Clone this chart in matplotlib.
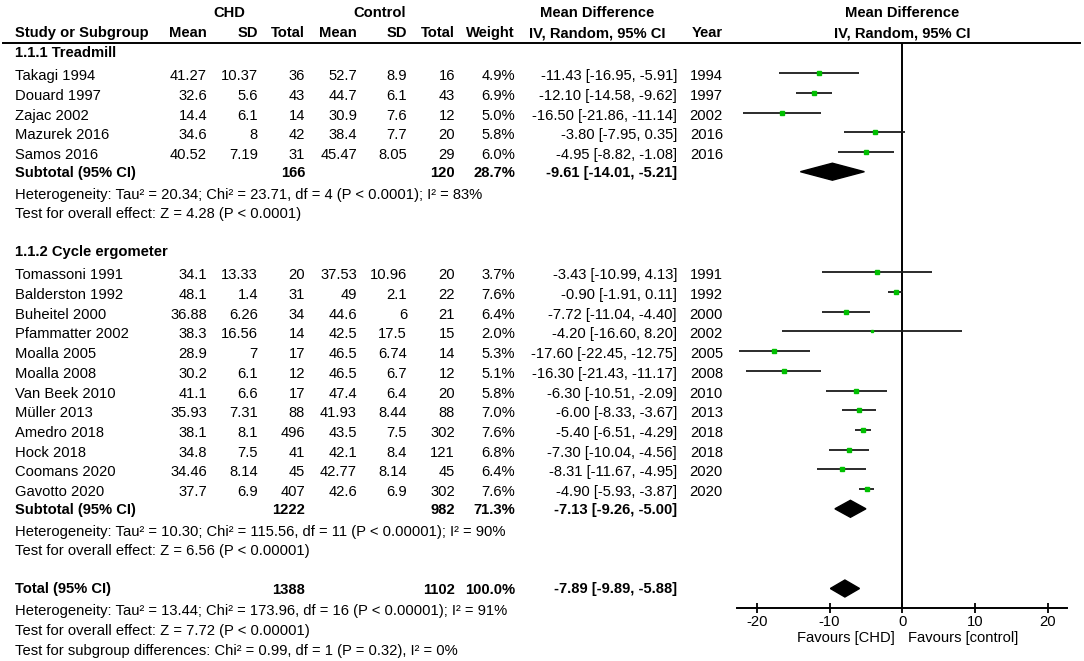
import matplotlib
matplotlib.use("Agg")
import matplotlib.pyplot as plt
from matplotlib.patches import Polygon

plt.rcParams['font.family'] = ['Liberation Sans', 'DejaVu Sans']
plt.rcParams['axes.unicode_minus'] = False

# study level data
study = ["Takagi 1994", "Douard 1997", "Zajac 2002", "Mazurek 2016", "Samos 2016",
         "Tomassoni 1991", "Balderston 1992", "Buheitel 2000", "Pfammatter 2002",
         "Moalla 2005", "Moalla 2008", "Van Beek 2010", "Müller 2013", "Amedro 2018",
         "Hock 2018", "Coomans 2020", "Gavotto 2020"]
group = [0, 0, 0, 0, 0, 1, 1, 1, 1, 1, 1, 1, 1, 1, 1, 1, 1]
chd_mean = [41.27, 32.6, 14.4, 34.6, 40.52, 34.1, 48.1, 36.88, 38.3, 28.9, 30.2, 41.1,
            35.93, 38.1, 34.8, 34.46, 37.7]
chd_sd = [10.37, 5.6, 6.1, 8, 7.19, 13.33, 1.4, 6.26, 16.56, 7, 6.1, 6.6, 7.31, 8.1,
          7.5, 8.14, 6.9]
chd_n = [36, 43, 14, 42, 31, 20, 31, 34, 14, 17, 12, 17, 88, 496, 41, 45, 407]
ctl_mean = [52.7, 44.7, 30.9, 38.4, 45.47, 37.53, 49, 44.6, 42.5, 46.5, 46.5, 47.4,
            41.93, 43.5, 42.1, 42.77, 42.6]
ctl_sd = [8.9, 6.1, 7.6, 7.7, 8.05, 10.96, 2.1, 6, 17.5, 6.74, 6.7, 6.4, 8.44, 7.5,
          8.4, 8.14, 6.9]
ctl_n = [16, 43, 12, 20, 29, 20, 22, 21, 15, 14, 12, 20, 88, 302, 121, 45, 302]
weight = [4.9, 6.9, 5.0, 5.8, 6.0, 3.7, 7.6, 6.4, 2.0, 5.3, 5.1, 5.8, 7.0, 7.6, 6.8, 6.4, 7.6]
md = [-11.43, -12.10, -16.50, -3.80, -4.95, -3.43, -0.90, -7.72, -4.20, -17.60, -16.30,
      -6.30, -6.00, -5.40, -7.30, -8.31, -4.90]
ci_lo = [-16.95, -14.58, -21.86, -7.95, -8.82, -10.99, -1.91, -11.04, -16.60, -22.45,
         -21.43, -10.51, -8.33, -6.51, -10.04, -11.67, -5.93]
ci_hi = [-5.91, -9.62, -11.14, 0.35, -1.08, 4.13, 0.11, -4.40, 8.20, -12.75, -11.17,
         -2.09, -3.67, -4.29, -4.56, -4.95, -3.87]
year = [1994, 1997, 2002, 2016, 2016, 1991, 1992, 2000, 2002, 2005, 2008, 2010, 2013,
        2018, 2018, 2020, 2020]

# subgroup and overall data
group_name = ["1.1.1 Treadmill", "1.1.2 Cycle ergometer"]
sub_chd_n = [166, 1222]
sub_ctl_n = [120, 982]
sub_weight = [28.7, 71.3]
sub_md = [-9.61, -7.13]
sub_lo = [-14.01, -9.26]
sub_hi = [-5.21, -5.00]
sub_het = ["Heterogeneity: Tau² = 20.34; Chi² = 23.71, df = 4 (P < 0.0001); I² = 83%",
           "Heterogeneity: Tau² = 10.30; Chi² = 115.56, df = 11 (P < 0.00001); I² = 90%"]
sub_z = ["Test for overall effect: Z = 4.28 (P < 0.0001)",
         "Test for overall effect: Z = 6.56 (P < 0.00001)"]
tot_chd_n = 1388
tot_ctl_n = 1102
tot_weight = 100.0
tot_md = -7.89
tot_lo = -9.89
tot_hi = -5.88
tot_notes = ["Heterogeneity: Tau² = 13.44; Chi² = 173.96, df = 16 (P < 0.00001); I² = 91%",
             "Test for overall effect: Z = 7.72 (P < 0.00001)",
             "Test for subgroup differences: Chi² = 0.99, df = 1 (P = 0.32), I² = 0%"]
x_ticks = [-20, -10, 0, 10, 20]

W, H = 1084, 661
FS = 10.6
fig = plt.figure(figsize=(W / 100, H / 100), dpi=100)
tx = fig.add_axes([0, 0, 1, 1])
tx.set_xlim(0, W)
tx.set_ylim(H, 0)
tx.axis('off')

# forest panel: x pixel 737..1067, y pixel 43..608
fx = fig.add_axes([737.3 / W, (H - 608) / H, 330 / W, (608 - 43) / H])
fx.set_xlim(-22.68, 22.68)
fx.set_ylim(608, 43)
fx.patch.set_alpha(0)
for s in ['top', 'left', 'right']:
    fx.spines[s].set_visible(False)
fx.spines['bottom'].set_linewidth(1.4)
fx.set_yticks([])
fx.set_xticks(x_ticks)
fx.tick_params(axis='x', direction='inout', length=7, width=1.3, labelsize=FS, pad=1.5)
fx.axvline(0, color='black', lw=1.4)

LEFT = 15
col_r = [207, 258, 305, 357, 407, 455, 515]
MD_R = 677
YEAR_R = 723


def put(x, y, s, ha='right', bold=False):
    tx.text(x, y, s, ha=ha, va='center', fontsize=FS,
            fontweight='bold' if bold else 'normal', color='black')


def diamond(y, est, lo, hi):
    fx.add_patch(Polygon([(lo, y), (est, y - 8.5), (hi, y), (est, y + 8.5)],
                         closed=True, color='black'))


# header
put(229, 13, "CHD", ha='center', bold=True)
put(380, 13, "Control", ha='center', bold=True)
put(597, 13, "Mean Difference", ha='center', bold=True)
put(902, 13, "Mean Difference", ha='center', bold=True)
put(LEFT, 33, "Study or Subgroup", ha='left', bold=True)
for xr, lab in zip(col_r, ["Mean", "SD", "Total", "Mean", "SD", "Total", "Weight"]):
    put(xr, 33, lab, bold=True)
put(597, 33, "IV, Random, 95% CI", ha='center', bold=True)
put(YEAR_R, 33, "Year", bold=True)
put(902, 33, "IV, Random, 95% CI", ha='center', bold=True)
tx.plot([3, 1080], [43, 43], color='black', lw=1.4)

step = 19.7
y = 53
for g in range(len(group_name)):
    put(LEFT, y, group_name[g], ha='left', bold=True)
    y += 23.2
    for i in range(len(study)):
        if group[i] != g:
            continue
        vals = ['{:g}'.format(chd_mean[i]), '{:g}'.format(chd_sd[i]), str(chd_n[i]),
                '{:g}'.format(ctl_mean[i]), '{:g}'.format(ctl_sd[i]), str(ctl_n[i]),
                '{:.1f}%'.format(weight[i])]
        put(LEFT, y, study[i], ha='left')
        for xr, v in zip(col_r, vals):
            put(xr, y, v)
        put(MD_R, y, '{:.2f} [{:.2f}, {:.2f}]'.format(md[i], ci_lo[i], ci_hi[i]))
        put(YEAR_R, y, str(year[i]))
        my = y - 3
        fx.plot([ci_lo[i], ci_hi[i]], [my, my], color='#1a1a1a', lw=1.3,
                solid_capstyle='butt', zorder=2)
        fx.plot([md[i]], [my], marker='s', ms=1.25 * weight[i] ** 0.5,
                color='#00bf00', mec='#00bf00', zorder=3)
        y += step
    y -= 2
    put(LEFT, y, "Subtotal (95% CI)", ha='left', bold=True)
    put(col_r[2], y, str(sub_chd_n[g]), bold=True)
    put(col_r[5], y, str(sub_ctl_n[g]), bold=True)
    put(col_r[6], y, '{:.1f}%'.format(sub_weight[g]), bold=True)
    put(MD_R, y, '{:.2f} [{:.2f}, {:.2f}]'.format(sub_md[g], sub_lo[g], sub_hi[g]), bold=True)
    diamond(y - 1, sub_md[g], sub_lo[g], sub_hi[g])
    y += 22
    put(LEFT, y, sub_het[g], ha='left')
    y += 19.5
    put(LEFT, y, sub_z[g], ha='left')
    y += 38

y = 589.5
put(LEFT, y, "Total (95% CI)", ha='left', bold=True)
put(col_r[2], y, str(tot_chd_n), bold=True)
put(col_r[5], y, str(tot_ctl_n), bold=True)
put(col_r[6], y, '{:.1f}%'.format(tot_weight), bold=True)
put(MD_R, y, '{:.2f} [{:.2f}, {:.2f}]'.format(tot_md, tot_lo, tot_hi), bold=True)
diamond(y - 1, tot_md, tot_lo, tot_hi)
for k, note in enumerate(tot_notes):
    put(LEFT, 611.5 + 20 * k, note, ha='left')

put(895, 638, "Favours [CHD]")
put(908, 638, "Favours [control]", ha='left')

fig.savefig("out.png", dpi=100)
